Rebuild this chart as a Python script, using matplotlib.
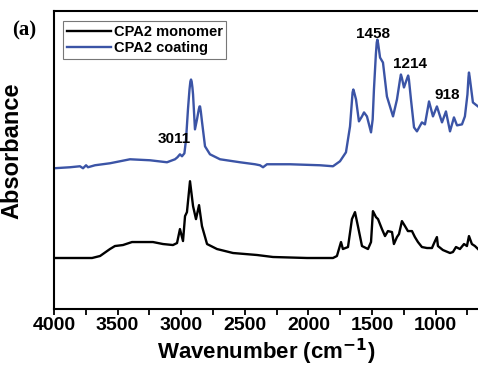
import matplotlib
matplotlib.use("Agg")
import matplotlib.pyplot as plt
from matplotlib.ticker import MultipleLocator

# FTIR spectra: wavenumber (cm-1) and absorbance (a.u., offset for display)
coating_wn = [4000, 3874, 3796, 3772, 3748, 3733, 3678, 3560, 3403, 3245, 3112,
              3049, 3030, 3010, 2994, 2975, 2962, 2947, 2935, 2928, 2923, 2918,
              2912, 2907, 2892, 2876, 2862, 2856, 2852, 2846, 2837, 2813, 2774,
              2695, 2538, 2420, 2381, 2357, 2326, 2145, 1909, 1807, 1752, 1705,
              1673, 1660, 1653, 1647, 1640, 1626, 1603, 1579, 1563, 1540, 1508,
              1495, 1485, 1470, 1463, 1458, 1452, 1437, 1414, 1383, 1335, 1304,
              1280, 1273, 1266, 1249, 1222, 1216, 1210, 1194, 1170, 1147, 1108,
              1084, 1052, 1021, 990, 950, 919, 887, 856, 832, 793, 770, 750,
              742, 738, 733, 725, 707, 667]
coating_abs = [1.41, 1.42, 1.43, 1.41, 1.44, 1.42, 1.44, 1.46, 1.50, 1.49, 1.47,
               1.50, 1.52, 1.55, 1.53, 1.56, 1.70, 2.00, 2.20, 2.28, 2.30, 2.28,
               2.22, 2.15, 1.80, 1.90, 2.00, 2.03, 2.03, 1.98, 1.88, 1.63, 1.55,
               1.50, 1.47, 1.45, 1.44, 1.42, 1.45, 1.45, 1.44, 1.43, 1.48, 1.57,
               1.83, 2.05, 2.17, 2.20, 2.17, 2.10, 1.88, 1.93, 1.97, 1.93, 1.77,
               1.90, 2.20, 2.55, 2.67, 2.70, 2.66, 2.52, 2.47, 2.13, 1.93, 2.10,
               2.30, 2.35, 2.32, 2.22, 2.32, 2.34, 2.30, 2.10, 1.82, 1.78, 1.87,
               1.85, 2.08, 1.93, 2.03, 1.87, 1.98, 1.78, 1.92, 1.84, 1.85, 1.93,
               2.15, 2.32, 2.37, 2.33, 2.25, 2.07, 2.03]

monomer_wn = [4000, 3701, 3638, 3560, 3521, 3458, 3387, 3222, 3143, 3065, 3033,
              3010, 2986, 2970, 2955, 2931, 2907, 2884, 2860, 2837, 2797, 2719,
              2593, 2404, 2279, 2011, 1807, 1776, 1744, 1729, 1689, 1658, 1634,
              1611, 1579, 1532, 1508, 1493, 1469, 1453, 1422, 1398, 1375, 1343,
              1328, 1304, 1288, 1265, 1241, 1218, 1186, 1163, 1139, 1108, 1068,
              1029, 1005, 990, 982, 943, 887, 864, 840, 809, 777, 754, 738, 715,
              691, 667]
monomer_abs = [0.51, 0.51, 0.53, 0.60, 0.63, 0.64, 0.67, 0.67, 0.65, 0.64, 0.66,
               0.80, 0.68, 0.93, 0.97, 1.28, 1.03, 0.90, 1.04, 0.83, 0.65, 0.60,
               0.56, 0.54, 0.52, 0.51, 0.51, 0.53, 0.67, 0.60, 0.62, 0.90, 0.97,
               0.83, 0.63, 0.60, 0.67, 0.98, 0.92, 0.90, 0.80, 0.73, 0.78, 0.77,
               0.65, 0.72, 0.75, 0.88, 0.83, 0.78, 0.78, 0.72, 0.67, 0.62, 0.61,
               0.61, 0.68, 0.72, 0.63, 0.59, 0.56, 0.57, 0.62, 0.60, 0.65, 0.63,
               0.73, 0.65, 0.63, 0.60]

peak_labels = ["3011", "1458", "1214", "918"]
peak_pos = [(3055, 1.63), (1495, 2.69), (1205, 2.39), (905, 2.07)]

plt.rcParams['font.family'] = ['Liberation Sans', 'DejaVu Sans']
plt.rcParams['font.weight'] = 'bold'
plt.rcParams['mathtext.default'] = 'bf'

fig = plt.figure(figsize=(4.78, 3.69), dpi=100)
ax = fig.add_axes([0.113, 0.163, 0.887, 0.808])

ax.plot(monomer_wn, monomer_abs, color='black', lw=1.7, label='CPA2 monomer')
ax.plot(coating_wn, coating_abs, color='#3b54a6', lw=1.7, label='CPA2 coating')

for txt, (x, y) in zip(peak_labels, peak_pos):
    ax.text(x, y, txt, ha='center', va='bottom', fontsize=11, fontweight='bold')

ax.set_xlim(4000, 667)
ax.set_ylim(0, 2.99)
ax.xaxis.set_major_locator(MultipleLocator(500))
ax.xaxis.set_minor_locator(MultipleLocator(250))
ax.set_yticks([])
ax.tick_params(axis='x', which='both', direction='out', length=4, width=1.3,
               labelsize=14, pad=2)
for lbl in ax.get_xticklabels():
    lbl.set_fontweight('bold')
for side in ['left', 'bottom', 'top']:
    ax.spines[side].set_linewidth(1.5)
ax.spines['right'].set_visible(False)

ax.set_xlabel('Wavenumber (cm$^{-1}$)', fontsize=16, fontweight='bold', labelpad=2)
ax.set_ylabel('Absorbance', fontsize=17, fontweight='bold')
ax.yaxis.set_label_coords(-0.073, 0.53)

leg = ax.legend(loc='upper left', bbox_to_anchor=(0.015, 0.975),
                prop={'weight': 'bold', 'size': 10.5}, frameon=True, fancybox=False,
                edgecolor='#555555', handlelength=3.0, borderpad=0.25,
                labelspacing=0.15, handletextpad=0.2, borderaxespad=0.2)
leg.get_frame().set_linewidth(0.8)

fig.text(0.025, 0.905, '(a)', fontsize=15, fontweight='bold',
         family=['Liberation Serif', 'DejaVu Serif'])

fig.savefig('out.png', dpi=100)
